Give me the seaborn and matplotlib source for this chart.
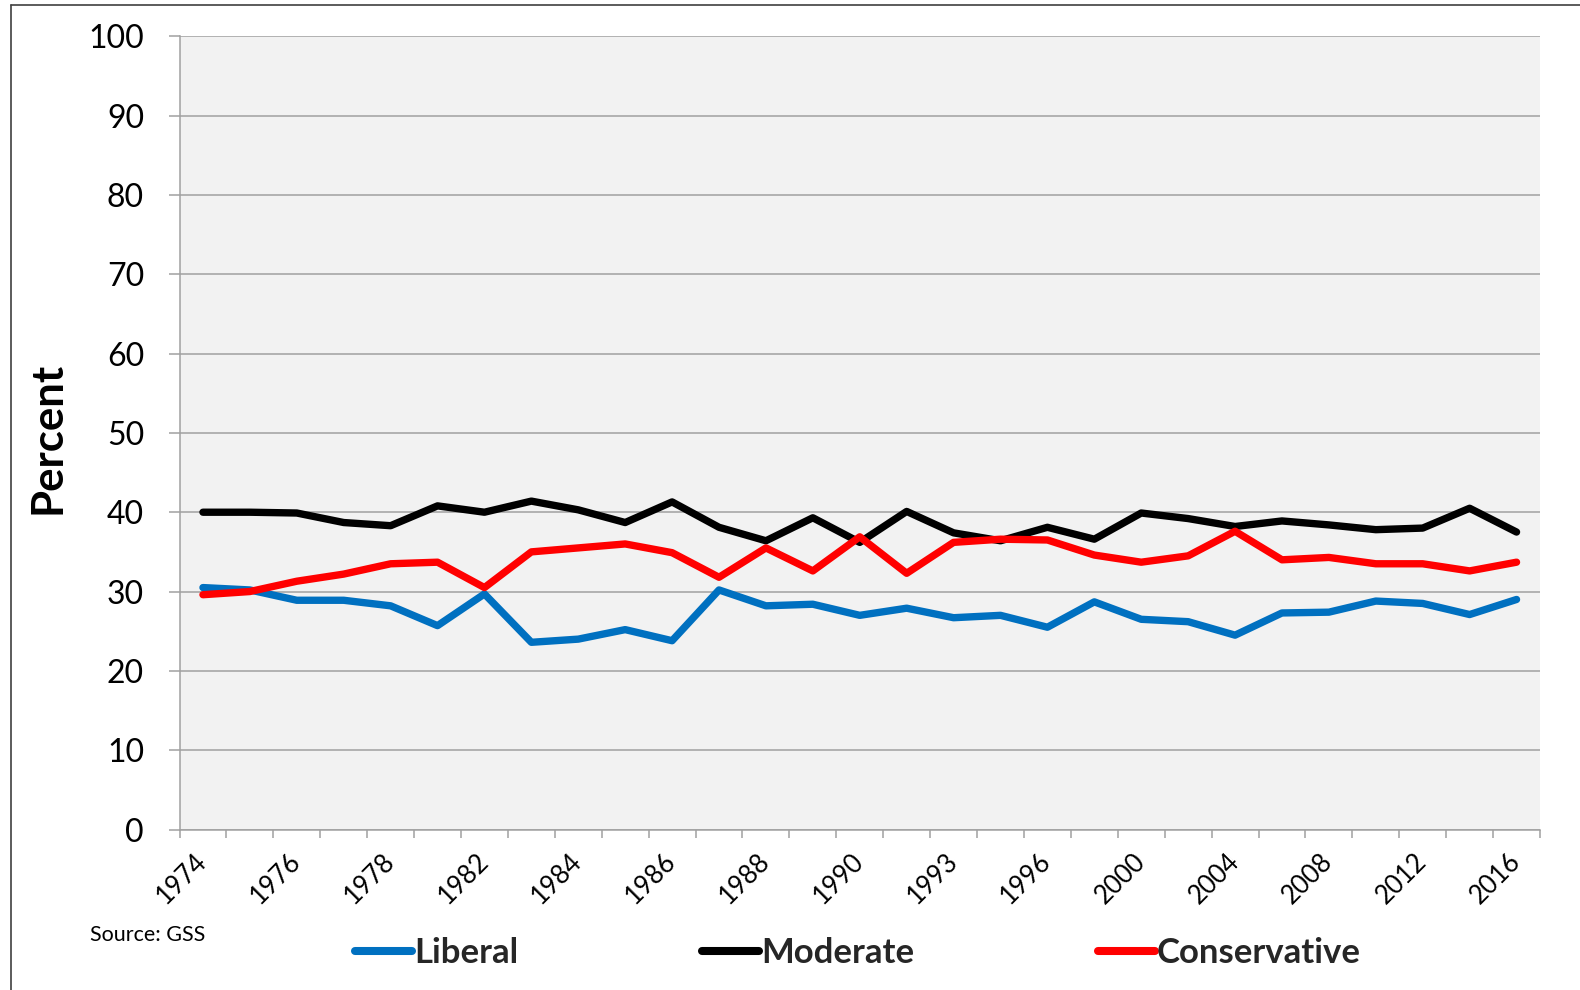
import numpy as np
import pandas as pd
import matplotlib
matplotlib.use("Agg")
import matplotlib.pyplot as plt
from matplotlib.lines import Line2D
import seaborn as sns

years = ["1974", "1975", "1976", "1977", "1978", "1980", "1982", "1983", "1984", "1985",
         "1986", "1987", "1988", "1989", "1990", "1991", "1993", "1994", "1996", "1998",
         "2000", "2002", "2004", "2006", "2008", "2010", "2012", "2014", "2016"]
liberal = [30.5, 30.2, 28.9, 28.9, 28.2, 25.7, 29.7, 23.6, 24.0, 25.2,
           23.8, 30.2, 28.2, 28.4, 27.0, 27.9, 26.7, 27.0, 25.5, 28.7,
           26.5, 26.2, 24.5, 27.3, 27.4, 28.8, 28.5, 27.1, 29.0]
moderate = [40.0, 40.0, 39.9, 38.7, 38.3, 40.8, 40.0, 41.4, 40.3, 38.7,
            41.3, 38.1, 36.4, 39.3, 36.2, 40.1, 37.4, 36.4, 38.1, 36.6,
            39.9, 39.2, 38.2, 38.9, 38.4, 37.8, 38.0, 40.5, 37.5]
conservative = [29.6, 30.0, 31.3, 32.2, 33.5, 33.7, 30.5, 35.0, 35.5, 36.0,
                34.9, 31.8, 35.5, 32.6, 36.9, 32.3, 36.2, 36.6, 36.5, 34.6,
                33.7, 34.5, 37.6, 34.0, 34.3, 33.5, 33.5, 32.6, 33.7]
series = ["Liberal", "Moderate", "Conservative"]
colors = {"Liberal": "#0070C0", "Moderate": "#000000", "Conservative": "#FF0000"}
yticks = list(range(0, 101, 10))

n = len(years)
df = pd.DataFrame({
    "Year": years * 3,
    "Percent": liberal + moderate + conservative,
    "Ideology": [series[0]] * n + [series[1]] * n + [series[2]] * n,
})

sns.set_theme(style="white")
plt.rcParams["font.family"] = ["Lato", "DejaVu Sans"]

W, H = 1580, 990
fig = plt.figure(figsize=(W / 100, H / 100), dpi=100)
L, R, T, B = 179.5, 1540, 36.3, 829.5
ax = fig.add_axes([L / W, 1 - B / H, (R - L) / W, (B - T) / H])
ax.set_facecolor("#F2F2F2")

sns.lineplot(data=df, x="Year", y="Percent", hue="Ideology", hue_order=series,
             palette=colors, linewidth=5.3, sort=False, ax=ax, legend=True)
for ln in ax.lines:
    ln.set_solid_capstyle("round")
    ln.set_solid_joinstyle("round")

gray = "#A0A0A0"
ax.set_xlim(-0.5, n - 0.5)
ax.set_ylim(0, 100)
ax.set_yticks(yticks)
ax.set_yticklabels([str(v) for v in yticks])
ax.yaxis.grid(True, color=gray, linewidth=1.1)
ax.xaxis.grid(False)
ax.set_axisbelow(True)

ax.set_xticks(range(0, n, 2))
ax.set_xticklabels(years[::2], rotation=45, ha="right", va="center",
                   rotation_mode="anchor")
ax.set_xticks(np.arange(-0.5, n, 1), minor=True)
ax.tick_params(axis="x", which="major", length=0, pad=20, labelsize=18.5, labelcolor="black")
ax.tick_params(axis="x", which="minor", length=5.8, width=1.1, color=gray, direction="out",
               bottom=True)
ax.tick_params(axis="y", which="major", length=7.9, width=1.1, color=gray, direction="out",
               pad=17.6, labelsize=23, labelcolor="black", left=True)

for s in ["top", "right"]:
    ax.spines[s].set_visible(False)
for s in ["left", "bottom"]:
    ax.spines[s].set_color(gray)
    ax.spines[s].set_linewidth(1.1)

ax.set_xlabel("")
ax.set_ylabel("")
fig.text(48 / W, 1 - 437.5 / H, "Percent", rotation=90, ha="center", va="center",
         fontsize=31.5, fontweight="bold", color="black")
fig.text(90 / W, 1 - 935 / H, "Source: GSS", ha="left", va="center", fontsize=15.5,
         color="black")

handles, labels = ax.get_legend_handles_labels()
ax.get_legend().remove()
leg = fig.legend(handles, labels, loc="center", bbox_to_anchor=(858 / W, 1 - 953 / H),
                 ncol=3, frameon=False, handlelength=1.64, handletextpad=0.05,
                 columnspacing=5.3, prop={"family": "Lato", "weight": "bold", "size": 25})
for h in leg.legend_handles:
    h.set_linewidth(5.8)
    h.set_solid_capstyle("round")

# outer frame
fig.add_artist(Line2D([11 / W, 11 / W], [0, 1 - 5 / H], color="#404040", linewidth=1.2,
                      transform=fig.transFigure))
fig.add_artist(Line2D([11 / W, 1], [1 - 5 / H, 1 - 5 / H], color="#404040", linewidth=1.2,
                      transform=fig.transFigure))

fig.savefig("out.png", dpi=100)
